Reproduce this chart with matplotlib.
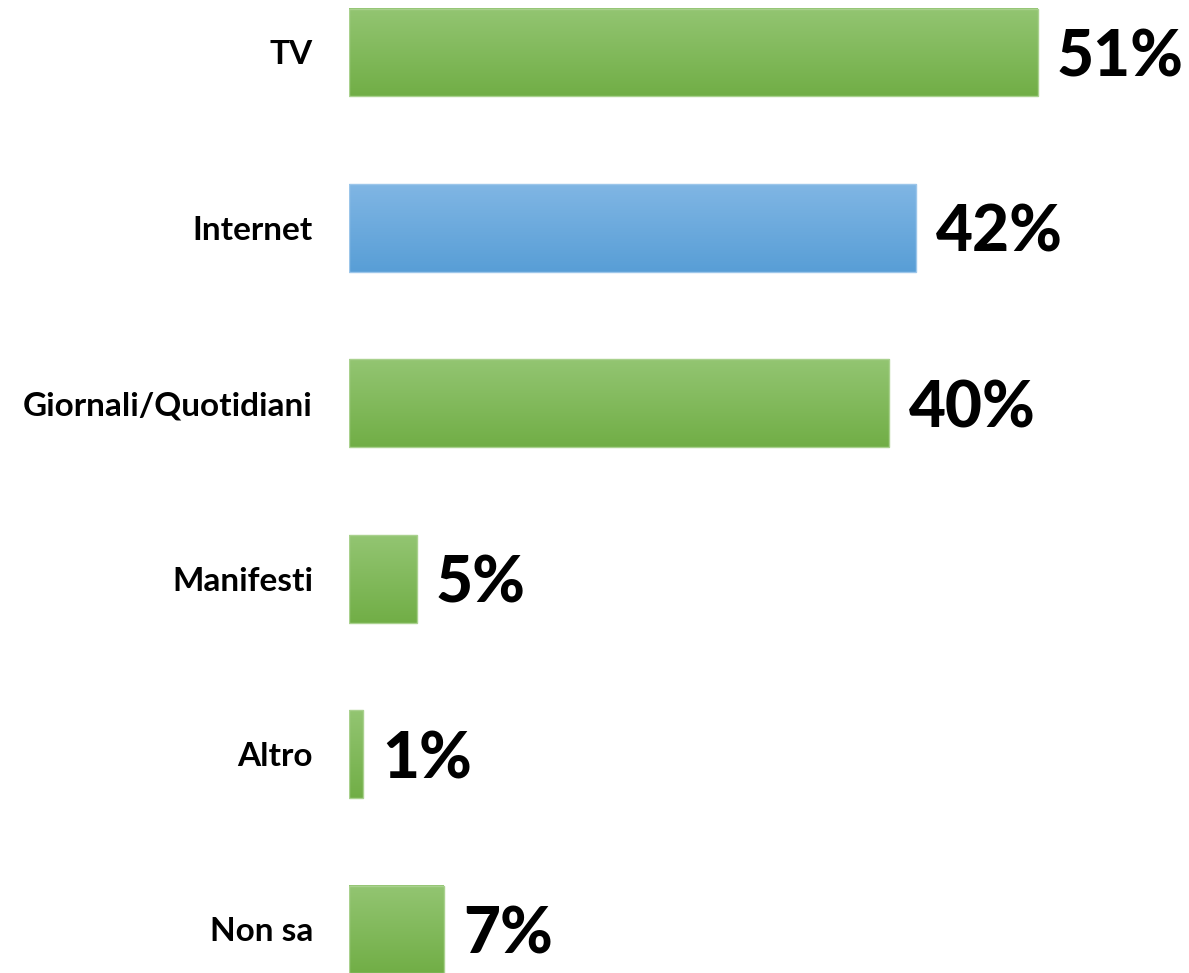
import numpy as np
import matplotlib
matplotlib.use("Agg")
import matplotlib.pyplot as plt
from matplotlib.colors import LinearSegmentedColormap

categories = ["TV", "Internet", "Giornali/Quotidiani", "Manifesti", "Altro", "Non sa"]
values = [51, 42, 40, 5, 1, 7]
highlight = [False, True, False, False, False, False]

green = LinearSegmentedColormap.from_list("g", ["#71ae46", "#93c572"])
blue = LinearSegmentedColormap.from_list("b", ["#589ed6", "#80b6e4"])

fig = plt.figure(figsize=(11.89, 9.73), dpi=100)
ax = fig.add_axes([349/1189, 0, 840/1189, 1])
ypos = np.arange(len(categories))
bars = ax.barh(ypos, values, height=0.5, color="none", edgecolor="none")
ax.set_xlim(0, 840/13.5)
ax.set_ylim(5.248, -0.299)

grad = np.linspace(1, 0, 256).reshape(-1, 1)
for b, v, hl in zip(bars, values, highlight):
    x0, y0 = b.get_x(), b.get_y()
    w, h = b.get_width(), b.get_height()
    cmap = blue if hl else green
    ax.imshow(grad, extent=(x0, x0 + w, y0 + h, y0), origin="upper",
              aspect="auto", cmap=cmap, vmin=0, vmax=1, zorder=2)
    ax.add_patch(plt.Rectangle((x0, y0), w, h, fill=False,
                               edgecolor="#a9d18e" if not hl else "#9cc6ea",
                               linewidth=1.0, zorder=3))
    ax.annotate(f"{v}%", xy=(x0 + w, y0 + h / 2), xytext=(14, -4),
                textcoords="offset points", va="center", ha="left",
                fontsize=46, fontweight="black", family=["Lato", "DejaVu Sans"],
                color="black")

ax.set_yticks(ypos)
ax.set_yticklabels(categories, fontsize=24, fontweight="bold", family=["Lato", "DejaVu Sans"])
for lbl in ax.get_yticklabels():
    lbl.set_verticalalignment("center_baseline")
ax.tick_params(axis="y", length=0, pad=26)
ax.set_xticks([])
for s in ax.spines.values():
    s.set_visible(False)

fig.savefig("out.png", dpi=100)
